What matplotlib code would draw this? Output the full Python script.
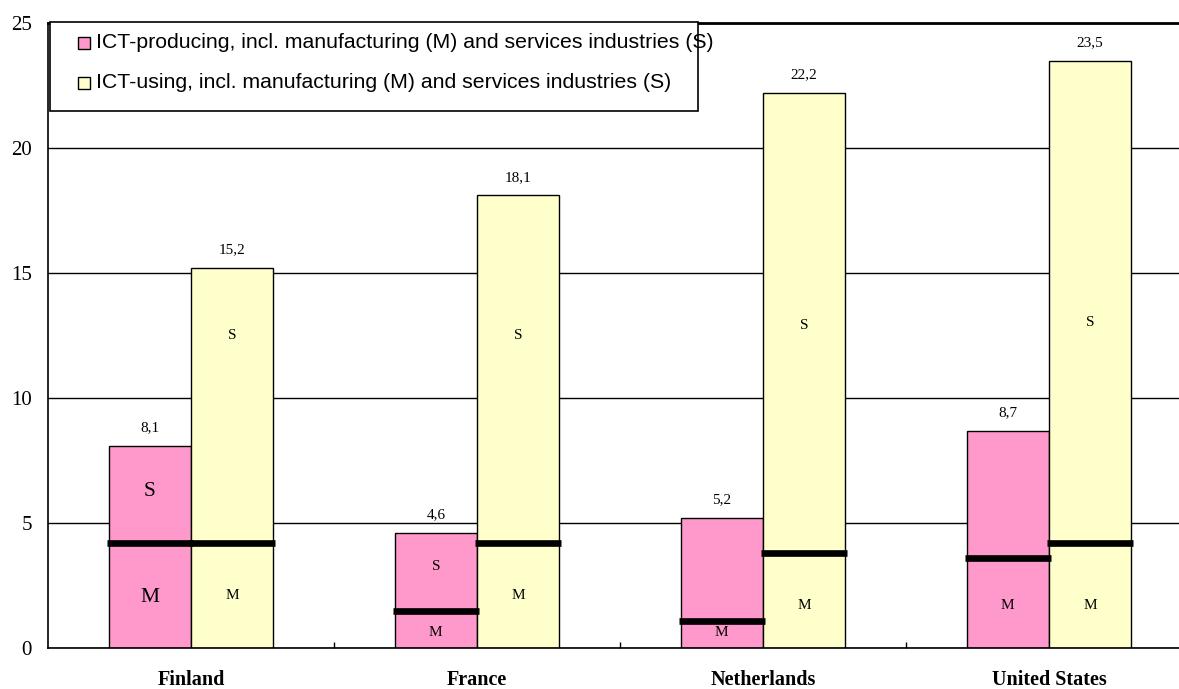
import matplotlib
matplotlib.use("Agg")
import matplotlib.pyplot as plt
from matplotlib.patches import Rectangle
import numpy as np

countries = ["Finland", "France", "Netherlands", "United States"]
ict_producing = [8.1, 4.6, 5.2, 8.7]
ict_using = [15.2, 18.1, 22.2, 23.5]
# manufacturing share (height of black separator line)
producing_manuf = [4.2, 1.5, 1.1, 3.6]
using_manuf = [4.2, 4.2, 3.8, 4.2]
yticks = [0, 5, 10, 15, 20, 25]
legend_labels = ["ICT-producing, incl. manufacturing (M) and services industries (S)",
                 "ICT-using, incl. manufacturing (M) and services industries (S)"]

# in-bar segment labels: (country index, series 0=producing/1=using, text, y, big)
segment_labels = [
    (0, 0, "S", 6.25, True), (0, 0, "M", 2.0, True),
    (0, 1, "S", 12.5, False), (0, 1, "M", 2.1, False),
    (1, 0, "S", 3.25, False), (1, 0, "M", 0.6, False),
    (1, 1, "S", 12.5, False), (1, 1, "M", 2.1, False),
    (2, 0, "M", 0.6, False),
    (2, 1, "S", 12.9, False), (2, 1, "M", 1.7, False),
    (3, 0, "M", 1.7, False),
    (3, 1, "S", 13.0, False), (3, 1, "M", 1.7, False),
]

PINK = "#FF99CC"
YELLOW = "#FFFFCC"
W, H = 1179, 689
fig = plt.figure(figsize=(W / 100, H / 100), dpi=100)
ax = fig.add_axes([48 / W, 41 / H, 1144 / W, 625 / H])

x = np.arange(len(countries))
bw = 0.288
ax.bar(x - bw / 2, ict_producing, bw, color=PINK, edgecolor="black", linewidth=1, zorder=2)
ax.bar(x + bw / 2, ict_using, bw, color=YELLOW, edgecolor="black", linewidth=1, zorder=2)

ext = 0.006
for i in range(len(countries)):
    ax.hlines(producing_manuf[i], x[i] - bw - ext, x[i] + ext, color="black", linewidth=4.8, zorder=3)
    ax.hlines(using_manuf[i], x[i] - ext, x[i] + bw + ext, color="black", linewidth=4.8, zorder=3)
    for xx, v in ((x[i] - bw / 2, ict_producing[i]), (x[i] + bw / 2, ict_using[i])):
        ax.annotate(f"{v:.1f}".replace(".", ","), (xx, v), xytext=(0, 13), textcoords="offset points",
                    ha="center", va="center", fontsize=11, family="Liberation Serif", zorder=4)

for ci, s, t, yv, big in segment_labels:
    xx = x[ci] - bw / 2 if s == 0 else x[ci] + bw / 2
    ax.text(xx, yv, t, ha="center", va="center", family="Liberation Serif",
            fontsize=15.5 if big else 11, zorder=4)

ax.set_xlim(-0.5, 3.5)
ax.set_ylim(0, 25)
ax.set_yticks(yticks)
ax.set_yticklabels([str(v) for v in yticks], family="Liberation Serif", fontsize=15)
ax.tick_params(axis="y", length=0, pad=11.5)
ax.set_xticks(x)
ax.set_xticklabels(countries, family="Liberation Serif", fontsize=14.5, fontweight="bold")
ax.set_xticks([0.5, 1.5, 2.5], minor=True)
ax.tick_params(axis="x", which="major", length=0, pad=15.5)
ax.tick_params(axis="x", which="minor", direction="in", length=4, width=1)
ax.yaxis.grid(True, color="black", linewidth=1)
ax.set_axisbelow(True)
ax.spines["right"].set_visible(False)
ax.spines["top"].set_linewidth(2)
ax.spines["left"].set_linewidth(1.2)
ax.spines["bottom"].set_linewidth(1.2)

# legend box (text overflows the frame as in the reference)
def fx(px):
    return px / W
def fy(py):
    return 1 - py / H

fig.patches.append(Rectangle((fx(50), fy(111)), fx(698) - fx(50), fy(22) - fy(111),
                             transform=fig.transFigure, facecolor="white", edgecolor="black",
                             linewidth=1.2, zorder=5))
for (row_y, col, lab) in ((43, PINK, legend_labels[0]), (83, YELLOW, legend_labels[1])):
    fig.patches.append(Rectangle((fx(78), fy(row_y + 6)), fx(90) - fx(78), fy(row_y - 6) - fy(row_y + 6),
                                 transform=fig.transFigure, facecolor=col, edgecolor="black",
                                 linewidth=1, zorder=6))
    fig.text(fx(95.5), fy(row_y), lab, ha="left", va="center", family="Liberation Sans",
             fontsize=15.35, zorder=7)

fig.savefig("out.png", dpi=100)
